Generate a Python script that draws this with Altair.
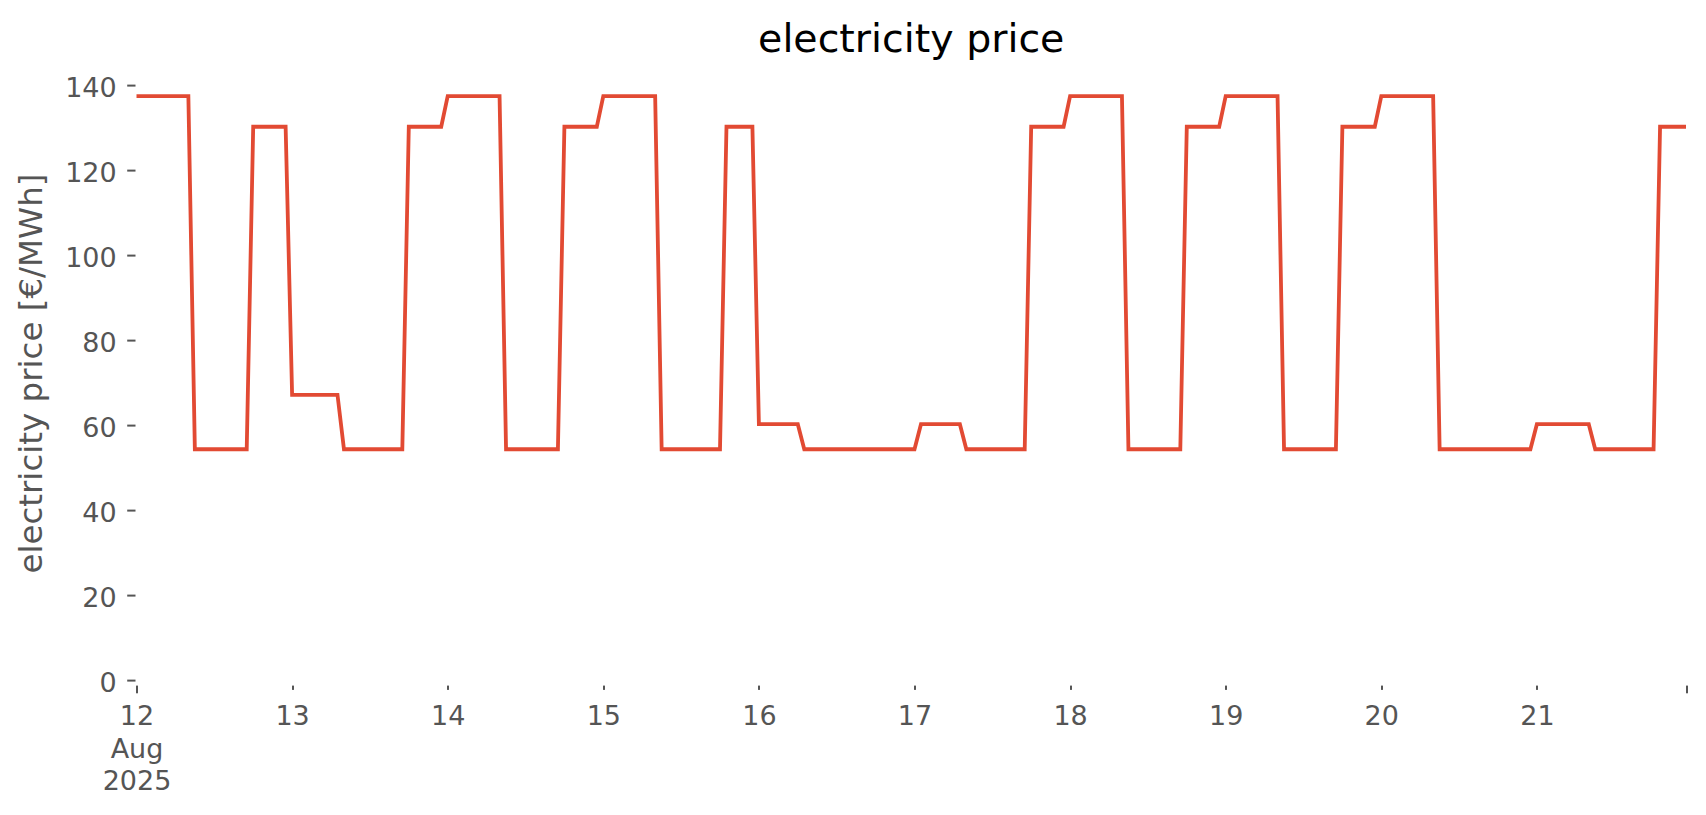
import altair as alt
import pandas as pd

# hourly electricity price [€/MWh], one list per day (00:00 .. 23:00)
aug12 = [137.5]*9 + [54.4]*9 + [130.3]*6
aug13 = [67.2]*8 + [54.4]*10 + [130.3]*6
aug14 = [137.5]*9 + [54.4]*9 + [130.3]*6
aug15 = [137.5]*9 + [54.4]*10 + [130.3]*5
aug16 = [60.3]*7 + [54.4]*17
aug17 = [54.4]*1 + [60.3]*7 + [54.4]*10 + [130.3]*6
aug18 = [137.5]*9 + [54.4]*9 + [130.3]*6
aug19 = [137.5]*9 + [54.4]*9 + [130.3]*6
aug20 = [137.5]*9 + [54.4]*15
aug21 = [60.3]*9 + [54.4]*10 + [130.3]*5

prices = aug12 + aug13 + aug14 + aug15 + aug16 + aug17 + aug18 + aug19 + aug20 + aug21
times = pd.date_range("2025-08-12 00:00", periods=len(prices), freq="h")
time_str = [t.strftime("%Y-%m-%dT%H:%M:%S") for t in times]

y_ticks = [0, 20, 40, 60, 80, 100, 120, 140]
day_ticks = [13, 14, 15, 16, 17, 18, 19, 20, 21]

df = pd.DataFrame({"time": time_str, "price": prices})

FONT = "DejaVu Sans"
GREY = "#555555"

W = 1549.5
H = 617

x_scale = alt.Scale(
    domain=[alt.DateTime(year=2025, month=8, date=12, hours=0),
            alt.DateTime(year=2025, month=8, date=21, hours=23)],
    nice=False,
)
y_scale = alt.Scale(domain=[-1.1, 144.1], nice=False, zero=False)

y_axis = alt.Axis(
    values=y_ticks, tickSize=8.3, tickWidth=2, tickColor=GREY, offset=1.5,
    labelPadding=10.5, labelOffset=3, labelFont=FONT, labelFontSize=27,
    labelColor=GREY, domain=False, grid=False,
    title="electricity price [€/MWh]", titleFont=FONT, titleFontSize=32.5,
    titleColor=GREY, titleFontWeight="normal", titleAngle=270,
    titleX=-103.5, titleY=305, titleAlign="center", titleBaseline="middle",
)

x_axis_days = alt.Axis(
    values=[alt.DateTime(year=2025, month=8, date=d) for d in day_ticks],
    format="%d", tickSize=4.3, tickWidth=2, tickColor=GREY,
    labelPadding=14, labelFont=FONT, labelFontSize=27, labelColor=GREY,
    labelFlush=False, labelOverlap=False, domain=False, grid=False,
    title=None, orient="bottom",
)

x_axis_major = alt.Axis(
    values=[alt.DateTime(year=2025, month=8, date=12, hours=0),
            alt.DateTime(year=2025, month=8, date=21, hours=23)],
    labelExpr="hours(datum.value) == 0 ? [timeFormat(datum.value, '%d'), timeFormat(datum.value, '%b'), timeFormat(datum.value, '%Y')] : ''",
    tickSize=7.7, tickWidth=2, tickColor=GREY,
    labelPadding=10.6, labelLineHeight=32.75, labelFont=FONT, labelFontSize=27,
    labelColor=GREY, labelFlush=False, labelOverlap=False, domain=False,
    grid=False, title=None, orient="bottom",
)

base = alt.Chart(df)

line = base.mark_line(color="#E24A33", strokeWidth=3.8).encode(
    x=alt.X("time:T", scale=x_scale, axis=x_axis_days),
    y=alt.Y("price:Q", scale=y_scale, axis=y_axis),
)

ghost = base.mark_line(opacity=0).encode(
    x=alt.X("time:T", scale=x_scale, axis=x_axis_major),
    y=alt.Y("price:Q", scale=y_scale, axis=y_axis),
)

chart = (
    alt.layer(line, ghost)
    .resolve_axis(x="independent")
    .properties(
        width=W,
        height=H,
        title=alt.TitleParams(
            "electricity price", font=FONT, fontSize=39.5, color="black",
            fontWeight="normal", anchor="middle", frame="group",
            baseline="alphabetic", offset=16, dy=39,
        ),
        autosize=alt.AutoSizeParams(type="none"),
        padding={"left": 128.5, "top": 60.1, "right": 12, "bottom": 110},
        background="white",
    )
    .configure_view(stroke="transparent")
)

chart.save("out.html", embed_options={"renderer": "svg", "actions": False})
